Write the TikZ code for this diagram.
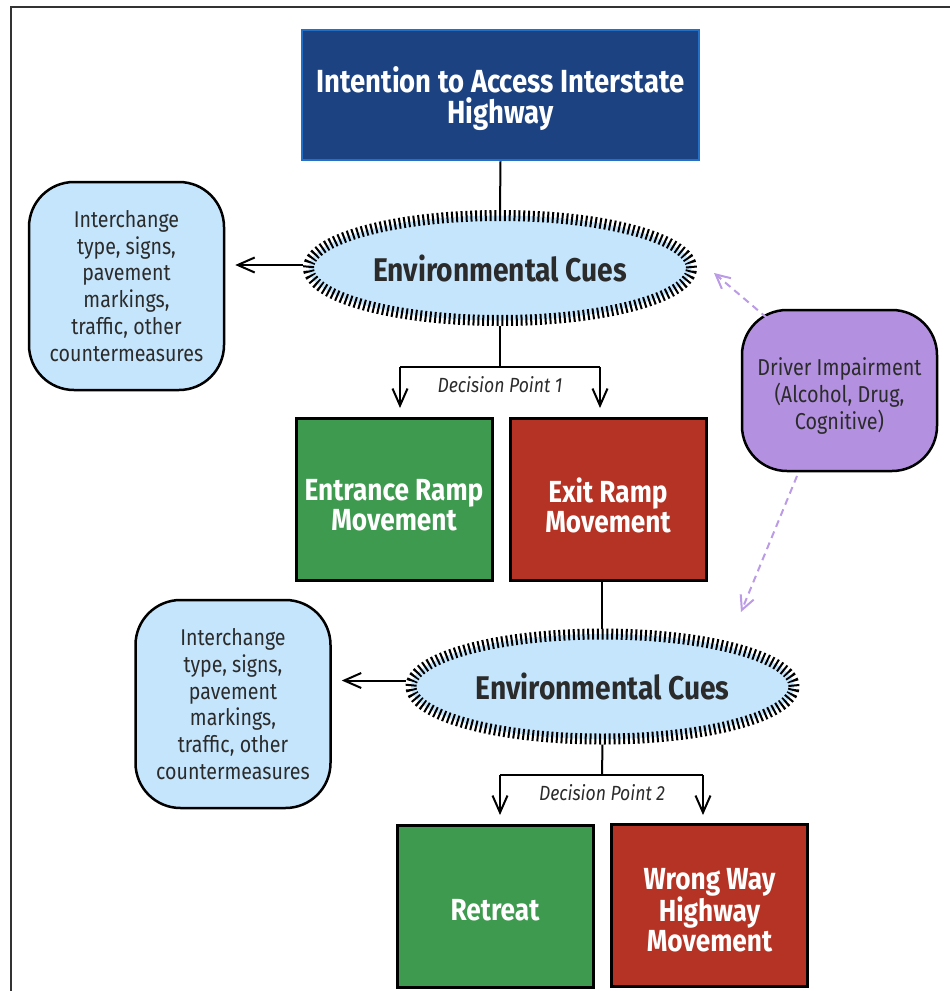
\documentclass[tikz,border=0pt]{standalone}
\usepackage{fontspec}
\setmainfont{Fira Sans}[FakeStretch=0.86]
\usetikzlibrary{arrows.meta,shapes.geometric}
\definecolor{navy}{HTML}{1C4281}
\definecolor{navyedge}{HTML}{2470C8}
\definecolor{lblue}{HTML}{C5E5FC}
\definecolor{boxgreen}{HTML}{3E9A4F}
\definecolor{boxred}{HTML}{B53324}
\definecolor{lilac}{HTML}{B491E0}
\definecolor{lilacline}{HTML}{BB9BE6}
\definecolor{txt}{HTML}{2B2B2B}
\tikzset{
  frameline/.style={draw=black!80, line width=1.5pt},
  topbox/.style={rectangle, fill=navy, draw=navyedge, line width=2.5pt, minimum width=397pt, minimum height=130pt, inner sep=0pt},
  toptext/.style={text=white, align=center, font=\bfseries\fontsize{32}{31}\selectfont, inner sep=0pt},
  cue/.style={ellipse, fill=lblue, draw=black, line width=11pt, dash pattern=on 2pt off 2.8pt, minimum width=383pt, minimum height=105pt, inner sep=0pt, text=txt, font=\bfseries\fontsize{32.8}{30}\selectfont},
  infobox/.style={rectangle, rounded corners=45pt, fill=lblue, draw=black, line width=2.5pt, minimum width=195pt, minimum height=208pt, text=txt, align=center, font=\fontsize{22.8}{26.8}\selectfont, inner sep=0pt},
  movebox/.style={rectangle, draw=black, line width=3pt, minimum width=196pt, minimum height=162pt, inner sep=0pt},
  movetext/.style={text=white, align=center, font=\bfseries\fontsize{30.5}{30}\selectfont, inner sep=0pt},
  impbox/.style={rectangle, rounded corners=45pt, fill=lilac, draw=black, line width=2.5pt, minimum width=195pt, minimum height=161pt, inner sep=0pt},
  imptext/.style={text=txt, align=center, font=\fontsize{23}{27}\selectfont, inner sep=0pt},
  conn/.style={draw=black, line width=2pt},
  tip/.style={-{Straight Barb[length=17pt,width=15pt,line width=2pt]}},
  dashtip/.style={draw=lilacline, line width=2pt, dash pattern=on 7pt off 5pt, -{Straight Barb[length=14pt,width=14pt,line width=2pt]}},
  dp/.style={text=txt, font=\itshape\fontsize{20.5}{20}\selectfont, inner sep=0pt}
}
\begin{document}
\begin{tikzpicture}[x=1pt,y=-1pt]
\useasboundingbox (0,0) rectangle (950,991);
\draw[frameline] (11,991) -- (11,7) -- (950,7);

% boxes
\node[topbox] (top) at (500.5,95) {};
\node[toptext] (topt) at (500.5,99) {Intention to Access Interstate\\Highway};
\node[cue] (ec1) at (500,268) {Environmental Cues};
\node[infobox] (ib1) at (126.5,286) {Interchange\\type, signs,\\pavement\\markings,\\traffic, other\\countermeasures};
\node[movebox, fill=boxgreen] (entr) at (394,499) {};
\node[movetext] (entrt) at (394,505) {Entrance Ramp\\Movement};
\node[movebox, fill=boxred] (exitr) at (608,499) {};
\node[movetext] (exitt) at (608,505) {Exit Ramp\\Movement};
\node[impbox] (imp) at (839.5,390.5) {};
\node[imptext] (impt) at (839.5,396) {Driver Impairment\\(Alcohol, Drug,\\Cognitive)};
\node[cue] (ec2) at (602.5,686.5) {Environmental Cues};
\node[infobox] (ib2) at (233,704) {Interchange\\type, signs,\\pavement\\markings,\\traffic, other\\countermeasures};
\node[movebox, fill=boxgreen] (retr) at (495,906) {};
\node[movetext] (retrt) at (495,910) {Retreat};
\node[movebox, fill=boxred] (wrong) at (709.5,905) {};
\node[movetext] (wrongt) at (709.5,910) {Wrong Way\\Highway\\Movement};

% coordinates
\coordinate (d1) at (500,367);
\coordinate (d1l) at (400,367);
\coordinate (d1r) at (600,367);
\coordinate (d1le) at (400,408);
\coordinate (d1re) at (600,408);
\coordinate (x1) at (602,581);
\coordinate (x1e) at (602,629);
\coordinate (d2) at (602,775);
\coordinate (d2l) at (500,775);
\coordinate (d2r) at (703,775);
\coordinate (d2le) at (500,815);
\coordinate (d2re) at (703,815);
\coordinate (p1s) at (767,318);
\coordinate (p1e) at (714,273);
\coordinate (p2s) at (797,476);
\coordinate (p2e) at (741,612);

% connectors
\draw[conn] (top.south) -- (ec1.north);
\draw[conn,tip] ([yshift=3pt]ec1.west) -- ([xshift=10pt,yshift=3pt]ib1.east |- ec1.west);
\draw[conn] (ec1.south) -- (d1);
\draw[conn] (d1l) -- (d1r);
\draw[conn,tip] (d1l) -- (d1le);
\draw[conn,tip] (d1r) -- (d1re);
\node[dp] (dp1) at (500,385) {Decision Point 1};

\draw[conn] (x1) -- (x1e);
\draw[conn,tip] ([yshift=6pt]ec2.west) -- ([xshift=10pt,yshift=6pt]ib2.east |- ec2.west);
\draw[conn] (ec2.south) -- (d2);
\draw[conn] (d2l) -- (d2r);
\draw[conn,tip] (d2l) -- (d2le);
\draw[conn,tip] (d2r) -- (d2re);
\node[dp] (dp2) at (602,793) {Decision Point 2};

\draw[dashtip] (p1s) -- (p1e);
\draw[dashtip] (p2s) -- (p2e);
\end{tikzpicture}
\end{document}
